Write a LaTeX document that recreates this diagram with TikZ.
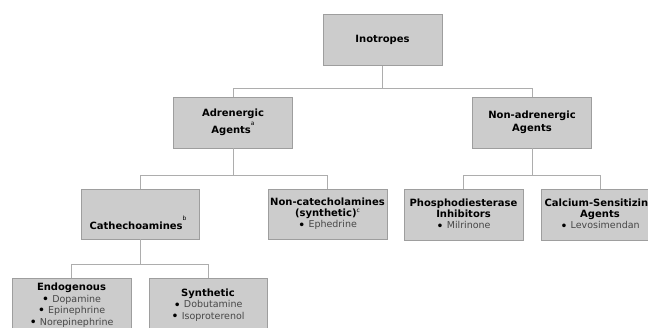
\documentclass[tikz,border=0pt]{standalone}
\usepackage{fontspec}
\setmainfont{DejaVu Sans}
\begin{document}
\begin{tikzpicture}[x=1pt,y=1pt,
  box/.style={draw=black!38, line width=0.8pt, fill=black!20, minimum width=119pt, minimum height=51pt, inner sep=1pt, align=center, font=\fontsize{10}{11}\selectfont},
  conn/.style={draw=black!32, line width=0.9pt},
  txt/.style={align=center, font=\fontsize{10}{11}\selectfont, inner sep=0pt}
]
\newcommand{\itm}[1]{{\fontsize{9.5}{11}\selectfont{\color{black}\raisebox{-1.4pt}{\fontsize{12.5}{11}\selectfont\textbullet}}~{\color{black!72}#1}}}
\newcommand{\supmark}[2]{\raisebox{#1}{\fontsize{6}{6}\selectfont #2}}
\useasboundingbox (0,0) rectangle (648,-327);
\clip (0,0) rectangle (648,-327);
\fill[white] (0,0) rectangle (648,-327);

\node[box] (ino) at (382.5,-40) {\textbf{Inotropes}};
\node[box] (adr) at (233,-122.5) {\textbf{Adrenergic}\\[2pt]\textbf{Agents}\supmark{8pt}{a}};
\node[box] (nonadr) at (532,-122.5) {\textbf{Non-adrenergic}\\[2pt]\textbf{Agents}};
\node[box, minimum width=118pt, minimum height=50pt] (cath) at (140,-214) {};
\node[txt] (cathT) at (138,-223) {\textbf{Cathechoamines}\supmark{9pt}{b}};
\node[box, minimum height=50pt] (noncat) at (327.5,-214) {\textbf{Non-catecholamines}\\\textbf{(synthetic)}\supmark{4pt}{c}\\\itm{Ephedrine}};
\node[box] (phos) at (463.5,-214.5) {\textbf{Phosphodiesterase}\\\textbf{Inhibitors}\\\itm{Milrinone}};
\node[box, minimum width=118pt] (calc) at (600,-214.5) {\textbf{Calcium-Sensitizing}\\\textbf{Agents}\\\itm{Levosimendan}};
\node[box, minimum height=54pt, font=\fontsize{10}{11.5}\selectfont] (endo) at (71.5,-305) {\textbf{Endogenous}\\\itm{Dopamine}\\\itm{Epinephrine}\\\itm{Norepinephrine}};
\node[box, minimum width=118pt, minimum height=54pt, font=\fontsize{10}{11.5}\selectfont] (syn) at (208,-305) {\textbf{Synthetic}\\\itm{Dobutamine}\\\itm{Isoproterenol}};

\coordinate (j1) at (382.5,-88);
\coordinate (j2) at (233,-175);
\coordinate (j3) at (532,-175);
\coordinate (j4) at (140,-264);

\draw[conn] (ino.south) -- (j1) -| (adr.north);
\draw[conn] (j1) -| (nonadr.north);
\draw[conn] (adr.south) -- (j2) -| (cath.north);
\draw[conn] (j2) -| (noncat.north);
\draw[conn] (nonadr.south) -- (j3) -| (phos.north);
\draw[conn] (j3) -| (calc.north);
\draw[conn] (cath.south) -- (j4) -| (endo.north);
\draw[conn] (j4) -| (syn.north);
\end{tikzpicture}
\end{document}
